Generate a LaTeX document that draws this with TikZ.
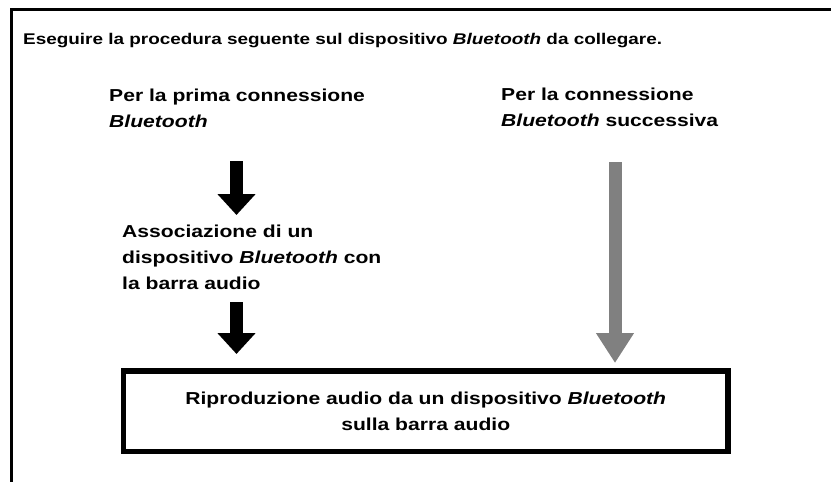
\documentclass[tikz,border=0pt]{standalone}
\usepackage{fontspec}
\setmainfont{Liberation Sans}[FakeStretch=1.22]
\usetikzlibrary{arrows.meta}

\definecolor{arrowgray}{RGB}{128,128,128}

\tikzset{
  steptext/.style={anchor=base west, align=left, inner sep=0pt,
    font=\bfseries\fontsize{17.3}{26}\selectfont},
  bigarrow/.style={line width=13pt, -{Triangle[width=37pt,length=21pt]}},
  longarrow/.style={arrowgray, line width=13pt, -{Triangle[width=36pt,length=30pt]}},
  playbox/.style={draw, line width=5.5pt, minimum width=604.5pt, minimum height=80.5pt,
    inner sep=0pt, align=center, font=\bfseries\fontsize{17.3}{26}\selectfont}
}

\begin{document}
\begin{tikzpicture}[x=1pt,y=-1pt]
  \useasboundingbox (0,0) rectangle (831,482);
  % frame on the left and on top
  \draw[line width=2.5pt] (11.5,482) -- (11.5,9.5) -- (831,9.5);

  \node[steptext, font=\bfseries\fontsize{15.5}{20}\selectfont] (intro) at (23,44) {Eseguire la procedura seguente sul dispositivo \textit{Bluetooth} da collegare.};
  \node[steptext] (first) at (109,127) {Per la prima connessione\\\textit{Bluetooth}};
  \node[steptext] (next) at (501,126) {Per la connessione\\\textit{Bluetooth} successiva};
  \node[steptext] (pair) at (122,289) {Associazione di un\\dispositivo \textit{Bluetooth} con\\la barra audio};
  \node[playbox] (play) at (425.75,411.25) {Riproduzione audio da un dispositivo \textit{Bluetooth}\\sulla barra audio};

  \coordinate (firstout) at (236.5,161);
  \coordinate (pairin) at (236.5,215);
  \coordinate (pairout) at (236.5,302);
  \coordinate (playinl) at (236.5,354);
  \coordinate (nextout) at (615,162);
  \coordinate (playinr) at (615,363);

  \draw[bigarrow] (firstout) -- (pairin);
  \draw[bigarrow] (pairout) -- (playinl);
  \draw[longarrow] (nextout) -- (playinr);
\end{tikzpicture}
\end{document}
